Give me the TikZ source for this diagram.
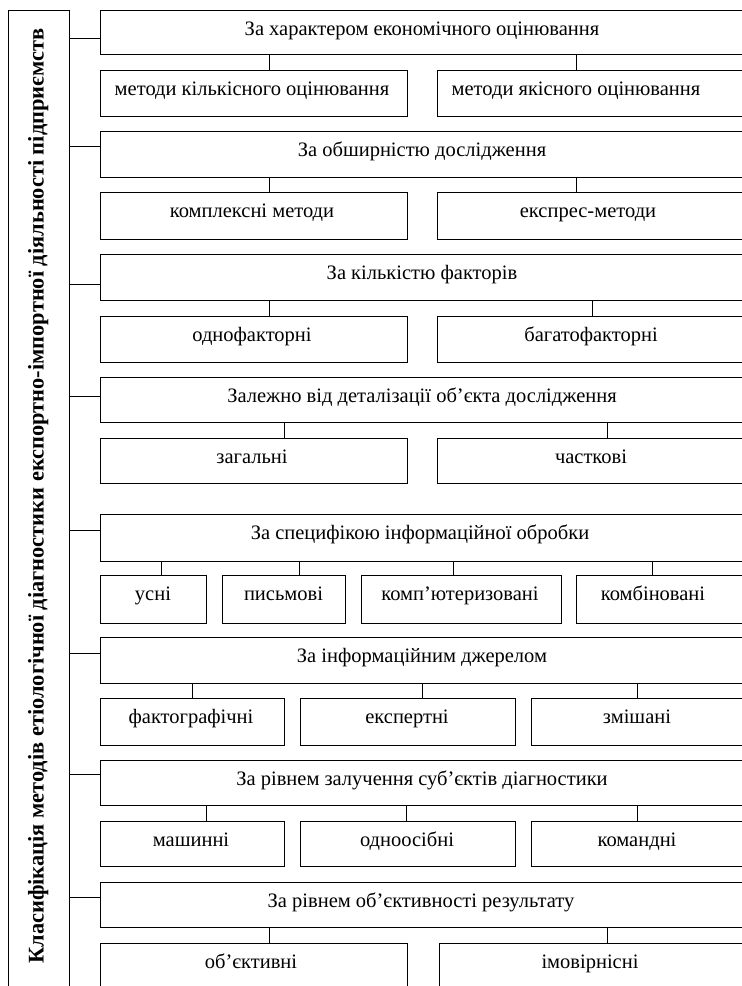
\documentclass[tikz,border=0pt]{standalone}
\usepackage{fontspec}
\setmainfont{Liberation Serif}
\tikzset{
  box/.style={draw=black, line width=1pt, rectangle, inner sep=0pt, outer sep=0pt, anchor=north west},
  txt/.style={inner sep=0pt, outer sep=0pt, anchor=base, font=\fontsize{20.5}{24}\selectfont},
  conn/.style={draw=black, line width=1pt},
}
\newcommand\bx[5]{\node[box, minimum width={(#4-#2)*1pt}, minimum height={(#5-#3)*1pt}] (#1) at (#2,#3) {};}
\newcommand\tx[4]{\node[txt] (#1) at (#2,#3) {#4};}
\newcommand\hconn[2]{\coordinate (y#1) at (0,#2); \draw[conn] (L.east |- y#1) -- (H#1.west |- y#1);}
\newcommand\vconn[4]{\coordinate (k#1) at (#2,0); \draw[conn] (k#1 |- #3.south) -- (k#1 |- #4.north);}
\begin{document}
\begin{tikzpicture}[x=1pt,y=-1pt]
\useasboundingbox (0,0) rectangle (742,986);
\clip (0,0) rectangle (742,986);
% left box
\bx{L}{8}{10}{69}{1000}
\node[inner sep=0pt, outer sep=0pt, rotate=90, anchor=base, font=\fontsize{22.4}{26}\selectfont\bfseries] (Lt) at (43.5,496) {Класифікація методів етіологічної діагностики експортно-імпортної діяльності підприємств};
% row 1
\bx{H1}{100}{10}{750}{54}
\tx{T1}{422}{35}{За характером економічного оцінювання}
\bx{S11}{100}{70}{407}{116} \tx{U11}{252}{95}{методи кількісного оцінювання}
\bx{S12}{437}{70}{750}{116} \tx{U12}{576}{95}{методи якісного оцінювання}
\hconn{1}{38.7}
\vconn{11}{269}{H1}{S11} \vconn{12}{576}{H1}{S12}
% row 2
\bx{H2}{100}{131}{750}{177}
\tx{T2}{422}{156}{За обширністю дослідження}
\bx{S21}{100}{192}{407}{239} \tx{U21}{252}{217}{комплексні методи}
\bx{S22}{437}{192}{750}{239} \tx{U22}{588}{217}{експрес-методи}
\hconn{2}{146.7}
\vconn{21}{269}{H2}{S21} \vconn{22}{576}{H2}{S22}
% row 3
\bx{H3}{100}{254}{750}{300}
\tx{T3}{422}{279}{За кількістю факторів}
\bx{S31}{100}{316}{407}{362} \tx{U31}{252}{341}{однофакторні}
\bx{S32}{437}{316}{750}{362} \tx{U32}{591}{341}{багатофакторні}
\hconn{3}{284}
\vconn{31}{269}{H3}{S31} \vconn{32}{592}{H3}{S32}
% row 4
\bx{H4}{100}{377}{750}{422}
\tx{T4}{422}{402}{Залежно від деталізації об’єкта дослідження}
\bx{S41}{100}{438}{407}{483} \tx{U41}{252}{463}{загальні}
\bx{S42}{437}{438}{750}{483} \tx{U42}{591}{463}{часткові}
\hconn{4}{396}
\vconn{41}{284}{H4}{S41} \vconn{42}{607}{H4}{S42}
% row 5
\bx{H5}{100}{514}{750}{561}
\tx{T5}{420}{539}{За специфікою інформаційної обробки}
\bx{S51}{100}{575}{206}{623} \tx{U51}{153}{600}{усні}
\bx{S52}{222}{575}{345}{623} \tx{U52}{283.5}{600}{письмові}
\bx{S53}{361}{575}{561}{623} \tx{U53}{460}{600}{комп’ютеризовані}
\bx{S54}{576}{575}{750}{623} \tx{U54}{653}{600}{комбіновані}
\hconn{5}{530}
\vconn{51}{161}{H5}{S51} \vconn{52}{299.5}{H5}{S52} \vconn{53}{453}{H5}{S53} \vconn{54}{652.6}{H5}{S54}
% row 6
\bx{H6}{100}{637}{750}{683}
\tx{T6}{422}{662}{За інформаційним джерелом}
\bx{S61}{100}{698}{284}{745} \tx{U61}{191}{723}{фактографічні}
\bx{S62}{300}{698}{515}{745} \tx{U62}{407}{723}{експертні}
\bx{S63}{531}{698}{750}{745} \tx{U63}{637}{723}{змішані}
\hconn{6}{653}
\vconn{61}{192}{H6}{S61} \vconn{62}{422.7}{H6}{S62} \vconn{63}{637.7}{H6}{S63}
% row 7
\bx{H7}{100}{760}{750}{805}
\tx{T7}{422}{785}{За рівнем залучення суб’єктів діагностики}
\bx{S71}{100}{821}{284}{866} \tx{U71}{191}{846}{машинні}
\bx{S72}{300}{821}{515}{866} \tx{U72}{407}{846}{одноосібні}
\bx{S73}{531}{821}{750}{866} \tx{U73}{637}{846}{командні}
\hconn{7}{774}
\vconn{71}{206.7}{H7}{S71} \vconn{72}{406.7}{H7}{S72} \vconn{73}{637.7}{H7}{S73}
% row 8
\bx{H8}{100}{882}{750}{927}
\tx{T8}{421}{907}{За рівнем об’єктивності результату}
\bx{S81}{100}{943}{407}{1000} \tx{U81}{251}{968}{об’єктивні}
\bx{S82}{439}{943}{750}{1000} \tx{U82}{590}{968}{імовірнісні}
\hconn{8}{897}
\vconn{81}{269}{H8}{S81} \vconn{82}{607}{H8}{S82}
\end{tikzpicture}
\end{document}
